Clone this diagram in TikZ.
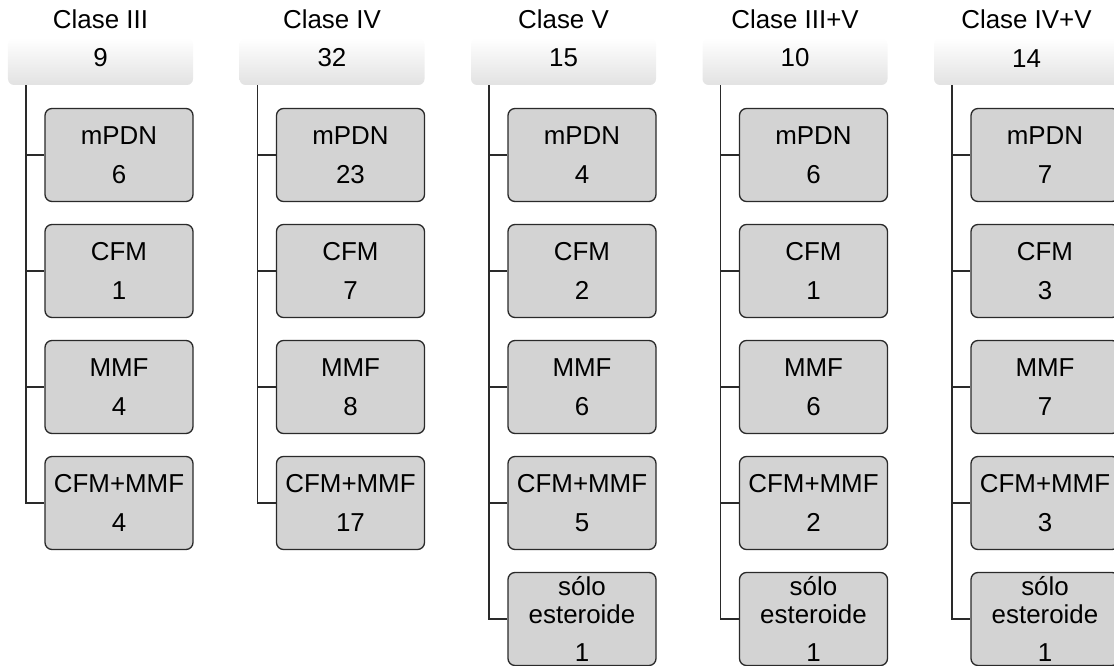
\documentclass[tikz,border=0pt]{standalone}
\usepackage{fontspec}
\setmainfont{Liberation Sans}
\definecolor{hdrgray}{HTML}{E2E2E2}
\definecolor{boxfill}{HTML}{D3D3D3}
\definecolor{boxline}{HTML}{2A2A2A}
\definecolor{connline}{HTML}{2A2A2A}
\tikzset{
  hdr/.style={rectangle, rounded corners=6bp, minimum width=185bp, minimum height=47bp,
    top color=white, bottom color=hdrgray, draw=none, inner sep=0pt},
  hdrtxt/.style={font=\fontsize{26}{39}\selectfont, align=center, inner sep=0pt},
  chbox/.style={rectangle, rounded corners=7bp, draw=boxline, line width=1.3bp, fill=boxfill,
    minimum width=148bp, minimum height=93bp, inner sep=0pt,
    font=\fontsize{26}{39}\selectfont, align=center},
  steroidbox/.style={chbox, font=\fontsize{26}{28}\selectfont},
  conn/.style={draw=connline, line width=1.5bp}
}
\begin{document}
\begin{tikzpicture}[x=1bp, y=-1bp]
\useasboundingbox (0,0) rectangle (1114,666);
\clip (0,0) rectangle (1114,666);
\foreach \i/\cname/\ctot/\va/\vb/\vc/\vd in {%
  0/Clase III/9/6/1/4/4,
  1/Clase IV/32/23/7/8/17,
  2/Clase V/15/4/2/6/5,
  3/Clase III+V/10/6/1/6/2,
  4/Clase IV+V/14/7/3/7/3}{
  \pgfmathsetmacro{\hx}{100.5+\i*231.5}
  \pgfmathsetmacro{\bx}{119+\i*231.5}
  \node[hdr] (h\i) at (\hx,61.5) {};
  \node[hdrtxt] (ht\i) at (\hx,38.2) {\cname\\\ctot};
  \node[chbox] (c\i-1) at (\bx,155) {mPDN\\\va};
  \node[chbox] (c\i-2) at (\bx,271) {CFM\\\vb};
  \node[chbox] (c\i-3) at (\bx,387) {MMF\\\vc};
  \node[chbox] (c\i-4) at (\bx,503) {CFM+MMF\\\vd};
  \coordinate (t\i) at ([xshift=18bp]h\i.south west);
  \draw[conn] (t\i |- c\i-1.west) -- (c\i-1.west);
  \draw[conn] (t\i |- c\i-2.west) -- (c\i-2.west);
  \draw[conn] (t\i |- c\i-3.west) -- (c\i-3.west);
}
\draw[conn] (t0) |- (c0-4.west);
\draw[conn] (t1) |- (c1-4.west);
\foreach \i in {2,3,4}{
  \pgfmathsetmacro{\bx}{119+\i*231.5}
  \node[steroidbox] (c\i-5) at (\bx,619) {sólo\\esteroide\\[10bp]1};
  \draw[conn] (t\i |- c\i-4.west) -- (c\i-4.west);
  \draw[conn] (t\i) |- (c\i-5.west);
}
\end{tikzpicture}
\end{document}
